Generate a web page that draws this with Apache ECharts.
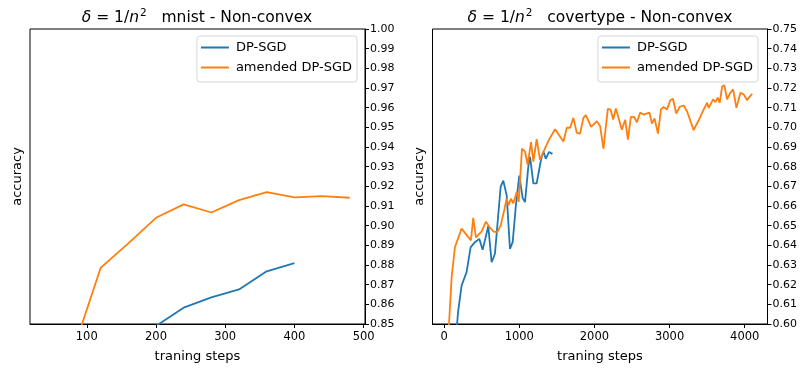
<!DOCTYPE html>
<html>
<head>
<meta charset="utf-8">
<script src="https://cdn.jsdelivr.net/npm/echarts@6/dist/echarts.min.js"></script>
<style>
  html, body { margin: 0; padding: 0; background: #fff; }
  #chart { width: 811px; height: 373px; }
</style>
</head>
<body>
<div id="chart"></div>
<script>
// mnist - Non-convex (left panel)
const mnistSteps = [40, 80, 120, 160, 200, 240, 280, 320, 360, 400, 440, 480]
const mnistDpSgd = [0.70, 0.76, 0.80, 0.83, 0.849, 0.8583, 0.8635, 0.8676, 0.8768, 0.8809]
const mnistAmended = [0.79, 0.836, 0.8785, 0.891, 0.904, 0.9108, 0.9067, 0.913, 0.917, 0.9144, 0.915, 0.9142]

// covertype - Non-convex (right panel)
const coverDpSgdSteps = [50, 95, 140, 185, 232, 298, 352, 409, 467, 512, 587, 632, 676, 752, 787, 832, 876, 912, 956, 1000,
  1045, 1076, 1120, 1143, 1187, 1231, 1289, 1321, 1352, 1396, 1441]
const coverDpSgd = [0.52, 0.55, 0.585, 0.606, 0.6195, 0.6263, 0.639, 0.6416, 0.6433, 0.6377, 0.6497, 0.6314, 0.6357, 0.6698, 0.6729, 0.6655, 0.6382, 0.6416, 0.6609, 0.6755,
  0.664, 0.662, 0.680, 0.685, 0.6715, 0.6715, 0.6835, 0.6877, 0.684, 0.6875, 0.6865]

const coverAmendedSteps = [50, 100, 143, 232, 356, 387, 423, 498, 556, 609, 663, 707, 752, 800, 832, 858, 889, 920, 965, 992,
  1036, 1076, 1111, 1156, 1187, 1231, 1276, 1343, 1400, 1476, 1587, 1632, 1676, 1720, 1765, 1809, 1853, 1885, 1956, 2032,
  2076, 2120, 2178, 2215, 2250, 2285, 2365, 2409, 2445, 2485, 2529, 2565, 2609, 2653, 2690, 2733, 2765, 2800, 2845, 2885,
  2920, 2965, 3009, 3045, 3089, 3133, 3187, 3232, 3320, 3387, 3440, 3499, 3520, 3579, 3609, 3640, 3667, 3699, 3729, 3765,
  3809, 3845, 3889, 3943, 3987, 4032, 4053, 4099]
const coverAmended = [0.59, 0.624, 0.639, 0.6485, 0.6425, 0.654, 0.644, 0.647, 0.652, 0.649, 0.6468, 0.6468, 0.650, 0.658, 0.6638, 0.6604, 0.6638, 0.6613, 0.667, 0.662,
  0.6892, 0.6877, 0.681, 0.6925, 0.6826, 0.694, 0.6835, 0.6894, 0.694, 0.699, 0.6928, 0.6998, 0.6998, 0.7048, 0.6972, 0.6968, 0.7048, 0.7062, 0.7002, 0.7031,
  0.7005, 0.6891, 0.7094, 0.709, 0.704, 0.7096, 0.6988, 0.7039, 0.6937, 0.7053, 0.7053, 0.7026, 0.7075, 0.7065, 0.707, 0.7075, 0.7019, 0.7045, 0.6968, 0.709,
  0.7104, 0.709, 0.7138, 0.7145, 0.707, 0.7104, 0.7111, 0.7082, 0.6986, 0.7036, 0.708, 0.7125, 0.7099, 0.7142, 0.7128, 0.7151, 0.7125, 0.7207, 0.7214, 0.7142,
  0.7176, 0.7193, 0.7099, 0.7176, 0.7167, 0.7138, 0.715, 0.7171]

const mnistXTicks = [100, 200, 300, 400, 500]
const coverXTicks = [0, 1000, 2000, 3000, 4000]

const BLUE = '#1f77b4'
const ORANGE = '#ff7f0e'
const FONT = 'DejaVu Sans'

const zip = (xs, ys) => ys.map((y, i) => [xs[i], y])

function titleText (name) {
  return '{i|δ}{r| = 1/}{i|n}{sup|2}{r|   ' + name + '}'
}
const titleRich = {
  i: { fontFamily: FONT, fontStyle: 'italic', fontWeight: 'normal', fontSize: 15.5, color: '#000' },
  r: { fontFamily: FONT, fontWeight: 'normal', fontSize: 15.5, color: '#000' },
  sup: { fontFamily: FONT, fontWeight: 'normal', fontSize: 10.5, color: '#000', padding: [0, 0, 8, 1] }
}

function xAxisOf (gridIndex, min, max, ticks) {
  return {
    type: 'value',
    gridIndex: gridIndex,
    min: min,
    max: max,
    name: 'traning steps',
    nameLocation: 'middle',
    nameGap: 26,
    nameTextStyle: { fontFamily: FONT, fontSize: 13, color: '#000' },
    axisLine: { show: true, onZero: false, lineStyle: { color: '#000', width: 1 } },
    axisTick: { show: true, length: 4, lineStyle: { color: '#000' }, customValues: ticks },
    axisLabel: { fontFamily: FONT, fontSize: 11.5, color: '#000', margin: 7, customValues: ticks, formatter: v => String(v) },
    splitLine: { show: false }
  }
}

function yAxisOf (gridIndex, min, max) {
  return {
    type: 'value',
    gridIndex: gridIndex,
    position: 'right',
    min: min,
    max: max,
    interval: 0.01,
    axisLine: { show: true, onZero: false, lineStyle: { color: '#000', width: 1 } },
    axisTick: { show: true, length: 4, lineStyle: { color: '#000' } },
    axisLabel: {
      fontFamily: FONT, fontSize: 11, color: '#000', margin: 5,
      formatter: v => v.toFixed(2)
    },
    splitLine: { show: false }
  }
}

function nameAxisOf (gridIndex) {
  // left side only carries the "accuracy" label
  return {
    type: 'value',
    gridIndex: gridIndex,
    position: 'left',
    min: 0,
    max: 1,
    name: 'accuracy',
    nameLocation: 'middle',
    nameGap: 6,
    nameTextStyle: { fontFamily: FONT, fontSize: 13, color: '#000' },
    axisLine: { show: false, onZero: false },
    axisTick: { show: false },
    axisLabel: { show: false },
    splitLine: { show: false }
  }
}

function legendOf (right) {
  return {
    orient: 'vertical',
    top: 36,
    right: right,
    align: 'left',
    icon: 'rect',
    itemWidth: 28,
    itemHeight: 2,
    itemGap: 7,
    padding: [5, 5, 8, 4],
    backgroundColor: 'rgba(255,255,255,0.8)',
    borderColor: '#d6d6d6',
    borderWidth: 1,
    borderRadius: 3,
    textStyle: { fontFamily: FONT, fontSize: 13, color: '#000', padding: [0, 0, 0, 2] },
    data: ['DP-SGD', 'amended DP-SGD']
  }
}

function lineSeries (name, color, xIdx, yIdx, data) {
  return {
    name: name,
    type: 'line',
    xAxisIndex: xIdx,
    yAxisIndex: yIdx,
    data: data,
    symbol: 'none',
    animation: false,
    clip: true,
    lineStyle: { color: color, width: 1.8 },
    itemStyle: { color: color }
  }
}

const myChart = echarts.init(document.getElementById('chart'), null, { renderer: 'canvas' })

const option = {
  backgroundColor: '#fff',
  animation: false,
  title: [
    { text: titleText('mnist - Non-convex'), left: 192, top: 3, textAlign: 'center', textStyle: { rich: titleRich } },
    { text: titleText('covertype - Non-convex'), left: 595, top: 3, textAlign: 'center', textStyle: { rich: titleRich } }
  ],
  legend: [legendOf(454), legendOf(53)],
  grid: [
    { left: 30, top: 29, width: 335, height: 295, show: true, borderColor: '#000', borderWidth: 1, backgroundColor: 'transparent' },
    { left: 432.5, top: 29, width: 335, height: 295, show: true, borderColor: '#000', borderWidth: 1, backgroundColor: 'transparent' }
  ],
  xAxis: [
    xAxisOf(0, 18, 502, mnistXTicks),
    xAxisOf(1, -155, 4303, coverXTicks)
  ],
  yAxis: [
    yAxisOf(0, 0.85, 1.0),
    yAxisOf(1, 0.60, 0.75),
    nameAxisOf(0),
    nameAxisOf(1)
  ],
  series: [
    lineSeries('DP-SGD', BLUE, 0, 0, zip(mnistSteps, mnistDpSgd)),
    lineSeries('amended DP-SGD', ORANGE, 0, 0, zip(mnistSteps, mnistAmended)),
    lineSeries('DP-SGD', BLUE, 1, 1, zip(coverDpSgdSteps, coverDpSgd)),
    lineSeries('amended DP-SGD', ORANGE, 1, 1, zip(coverAmendedSteps, coverAmended))
  ]
}

myChart.setOption(option)
window.addEventListener('resize', () => myChart.resize())
</script>
</body>
</html>
